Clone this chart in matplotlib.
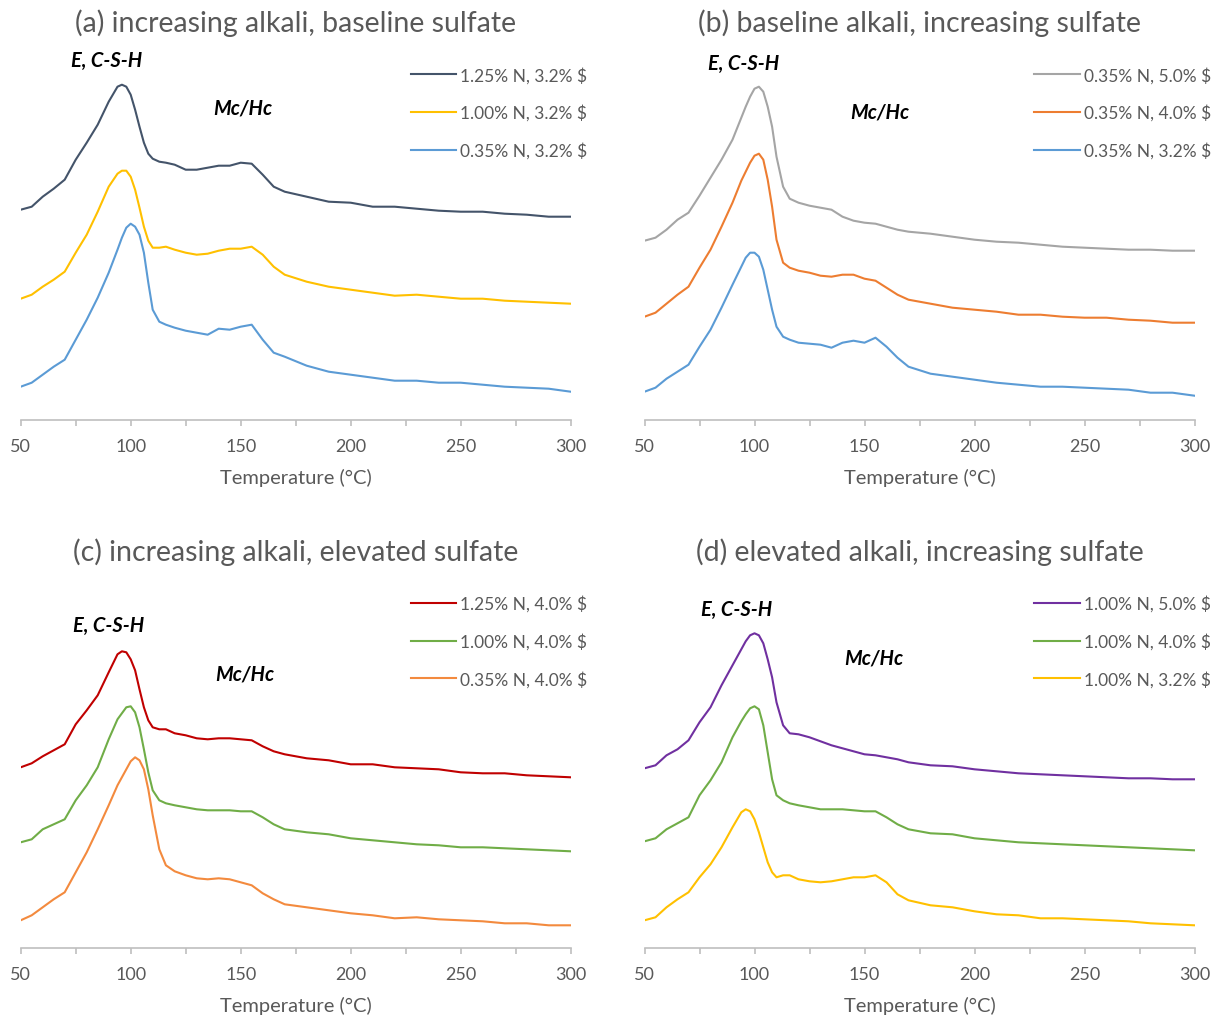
import matplotlib
matplotlib.use("Agg")
import matplotlib.pyplot as plt
from matplotlib.ticker import MultipleLocator

plt.rcParams['font.family'] = ['Lato', 'DejaVu Sans']

# temperature grid (°C)
temp = [50, 55, 60, 65, 70, 75, 80, 85, 90, 94, 96, 98, 100, 102, 104, 106, 108, 110,
        113, 116, 120, 125, 130, 135, 140, 145, 150, 155, 160, 165, 170,
        180, 190, 200, 210, 220, 230, 240, 250, 260, 270, 280, 290, 300]

# DTG signal, arbitrary units, curves offset for clarity
# (a) increasing alkali, baseline sulfate
a_n125 = [210, 213, 223, 231, 240, 260, 277, 295, 318, 333, 335, 333, 325, 310, 293, 277, 266, 261,
          258, 257, 255, 250, 250, 252, 254, 254, 257, 256, 245, 233, 228,
          223, 218, 217, 213, 213, 211, 209, 208, 208, 206, 205, 203, 203]
a_n100 = [121, 125, 133, 140, 148, 167, 185, 208, 233, 246, 249, 249, 243, 230, 212, 193, 179, 172,
          172, 173, 170, 167, 165, 166, 169, 171, 171, 173, 165, 153, 145,
          138, 133, 130, 127, 124, 125, 123, 121, 121, 119, 118, 117, 116]
a_n035 = [33, 37, 45, 53, 60, 80, 100, 122, 147, 170, 182, 192, 196, 193, 185, 167, 137, 110,
          98, 95, 92, 89, 87, 85, 91, 90, 93, 95, 80, 67, 63,
          54, 48, 45, 42, 39, 39, 37, 37, 35, 33, 32, 31, 28]

# (b) baseline alkali, increasing sulfate
b_s50 = [179, 182, 190, 200, 207, 224, 242, 260, 280, 302, 313, 323, 331, 333, 328, 313, 293, 263,
         233, 221, 217, 214, 212, 210, 203, 199, 197, 196, 193, 190, 188,
         186, 183, 180, 178, 177, 175, 173, 172, 171, 170, 170, 169, 169]
b_s40 = [103, 107, 116, 125, 133, 152, 170, 193, 217, 239, 248, 257, 264, 266, 260, 240, 213, 180,
         157, 152, 149, 147, 144, 143, 145, 145, 141, 139, 132, 125, 120,
         116, 112, 110, 108, 105, 105, 103, 102, 102, 100, 99, 97, 97]
b_s32 = [28, 32, 41, 48, 55, 73, 90, 112, 135, 153, 162, 167, 167, 163, 150, 130, 110, 93,
         83, 80, 77, 76, 75, 72, 77, 79, 77, 82, 73, 62, 53,
         46, 43, 40, 37, 35, 33, 33, 32, 31, 30, 27, 27, 24]

# (c) increasing alkali, elevated sulfate
c_n125 = [181, 185, 192, 198, 204, 224, 238, 253, 276, 294, 297, 296, 289, 278, 259, 241, 228, 221,
          219, 219, 215, 213, 210, 209, 210, 210, 209, 208, 202, 197, 194,
          190, 188, 184, 184, 181, 180, 179, 176, 175, 175, 173, 172, 171]
c_n100 = [106, 109, 119, 124, 129, 148, 163, 181, 209, 229, 235, 241, 242, 236, 221, 199, 176, 158,
          148, 145, 143, 141, 139, 138, 138, 138, 137, 137, 131, 124, 119,
          116, 114, 110, 108, 106, 104, 103, 101, 101, 100, 99, 98, 97]
c_n035 = [28, 33, 41, 49, 56, 76, 96, 119, 143, 163, 171, 179, 187, 191, 188, 179, 159, 133,
          99, 83, 77, 73, 70, 69, 70, 69, 66, 63, 55, 49, 44,
          41, 38, 35, 33, 30, 31, 29, 28, 27, 25, 25, 23, 23]

# (d) elevated alkali, increasing sulfate
d_s50 = [180, 183, 193, 199, 208, 226, 241, 263, 283, 299, 307, 313, 315, 313, 305, 289, 271, 246,
         223, 215, 214, 211, 207, 203, 200, 197, 194, 193, 191, 189, 186,
         183, 182, 179, 177, 175, 174, 173, 172, 171, 170, 170, 169, 169]
d_s40 = [107, 110, 119, 125, 131, 153, 168, 186, 211, 227, 234, 240, 242, 239, 223, 196, 169, 153,
         148, 145, 143, 141, 139, 139, 139, 138, 137, 137, 131, 124, 119,
         115, 114, 110, 108, 106, 105, 104, 103, 102, 101, 100, 99, 98]
d_s32 = [28, 31, 41, 49, 56, 71, 84, 101, 121, 136, 139, 137, 129, 116, 101, 86, 76, 71,
         73, 73, 69, 67, 66, 67, 69, 71, 71, 73, 66, 54, 48,
         43, 41, 37, 34, 33, 30, 30, 29, 28, 27, 25, 24, 23]

DARK = "#44546A"
YELLOW = "#FFC000"
BLUE = "#5B9BD5"
GRAY = "#A5A5A5"
ORANGE = "#ED7D31"
LIGHT_ORANGE = "#F38A3E"
RED = "#C00000"
GREEN = "#70AD47"
PURPLE = "#7030A0"
TEXT = "#595959"
AXIS = "#BFBFBF"

fig = plt.figure(figsize=(12.19, 10.20), dpi=100)


def draw_panel(rect, title, curves, csh_pos, mchc_pos):
    ax = fig.add_axes(rect)
    for label, vals, color in curves:
        ax.plot(temp, vals, color=color, lw=1.5, label=label, solid_joinstyle="round")

    ax.set_xlim(50, 300)
    ax.set_ylim(0, 375)
    for side in ["left", "right", "top"]:
        ax.spines[side].set_visible(False)
    ax.spines["bottom"].set_color(AXIS)
    ax.spines["bottom"].set_linewidth(1.2)
    ax.set_yticks([])
    ax.xaxis.set_major_locator(MultipleLocator(50))
    ax.xaxis.set_minor_locator(MultipleLocator(25))
    ax.tick_params(axis="x", which="both", direction="out", length=4.5, width=1.2,
                   color=AXIS, labelsize=13, labelcolor=TEXT, pad=8.5)
    ax.set_xlabel("Temperature (°C)", fontsize=14.5, color=TEXT, labelpad=10)
    ax.patch.set_alpha(0)

    ax.text(0.5, 1.06, title, transform=ax.transAxes, ha="center", va="center",
            fontsize=20.5, color=TEXT)

    # peak labels
    ax.text(csh_pos[0], csh_pos[1], "E, C-S-H", ha="center", va="center", fontsize=14.5,
            fontweight="bold", fontstyle="italic", color="black", clip_on=False)
    ax.text(mchc_pos[0], mchc_pos[1], "Mc/Hc", ha="center", va="center", fontsize=14.5,
            fontweight="bold", fontstyle="italic", color="black", clip_on=False)

    ax.legend(loc="upper left", bbox_to_anchor=(0.709, 0.942), frameon=False, fontsize=12.5,
              handlelength=2.6, handletextpad=0.25, labelspacing=1.2, borderaxespad=0,
              borderpad=0, labelcolor=TEXT)
    return ax


W = 550 / 1219
H = 375 / 1020
left1, left2 = 20.7 / 1219, 644.5 / 1219
bot1, bot2 = (1020 - 420.7) / 1020, (1020 - 949.3) / 1020

draw_panel([left1, bot1, W, H], "(a) increasing alkali, baseline sulfate",
           [("1.25% N, 3.2% $", a_n125, DARK),
            ("1.00% N, 3.2% $", a_n100, YELLOW),
            ("0.35% N, 3.2% $", a_n035, BLUE)],
           (89, 360), (151, 312))

draw_panel([left2, bot1, W, H], "(b) baseline alkali, increasing sulfate",
           [("0.35% N, 5.0% $", b_s50, GRAY),
            ("0.35% N, 4.0% $", b_s40, ORANGE),
            ("0.35% N, 3.2% $", b_s32, BLUE)],
           (95, 357), (157, 308))

draw_panel([left1, bot2, W, H], "(c) increasing alkali, elevated sulfate",
           [("1.25% N, 4.0% $", c_n125, RED),
            ("1.00% N, 4.0% $", c_n100, GREEN),
            ("0.35% N, 4.0% $", c_n035, LIGHT_ORANGE)],
           (90, 323), (152, 275))

draw_panel([left2, bot2, W, H], "(d) elevated alkali, increasing sulfate",
           [("1.00% N, 5.0% $", d_s50, PURPLE),
            ("1.00% N, 4.0% $", d_s40, GREEN),
            ("1.00% N, 3.2% $", d_s32, YELLOW)],
           (92, 339), (154, 291))

fig.savefig("out.png", dpi=100)
